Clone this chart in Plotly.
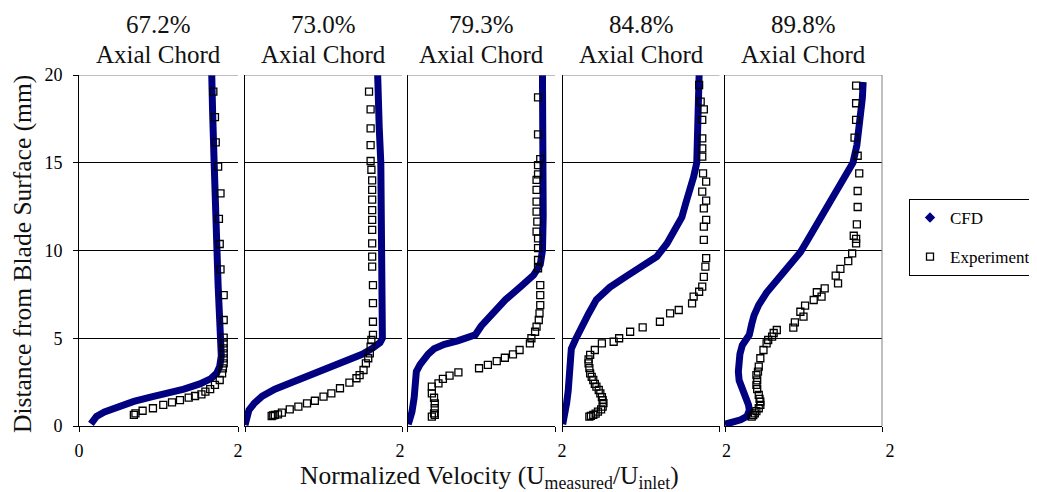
import plotly.graph_objects as go

FONT = "Liberation Serif"

panel_labels = ["67.2%", "73.0%", "79.3%", "84.8%", "89.8%"]
panel_sub = "Axial Chord"
y_ticks = [0, 5, 10, 15, 20]

# ---- CFD profiles (normalized velocity, distance mm) ----
cfd1_x = [0.15, 0.17, 0.22, 0.32, 0.48, 0.69, 0.9, 1.1, 1.32, 1.52, 1.66, 1.73, 1.77, 1.79, 1.79, 1.78, 1.77, 1.75, 1.73, 1.72, 1.70, 1.68, 1.67]
cfd1_y = [0.12, 0.3, 0.55, 0.8, 1.1, 1.4, 1.65, 1.85, 2.1, 2.4, 2.7, 3.0, 3.4, 4.0, 4.5, 5.0, 6.0, 8.0, 10.0, 12.0, 15.0, 18.0, 20.0]

cfd2_x = [0.0, 0.02, 0.05, 0.12, 0.22, 0.38, 0.6, 0.85, 1.05, 1.3, 1.5, 1.63, 1.72, 1.75, 1.75, 1.75, 1.75, 1.74, 1.73, 1.71, 1.69]
cfd2_y = [0.05, 0.5, 0.9, 1.3, 1.7, 2.1, 2.5, 2.9, 3.3, 3.7, 4.1, 4.45, 4.75, 5.0, 6.0, 8.0, 10.0, 12.0, 15.0, 17.0, 20.0]

cfd3_x = [0.01, 0.06, 0.09, 0.10, 0.12, 0.17, 0.22, 0.28, 0.36, 0.5, 0.68, 0.82, 0.92, 1.0, 1.15, 1.33, 1.55, 1.71, 1.80, 1.83, 1.84, 1.84, 1.84, 1.83]
cfd3_y = [0.1, 0.8, 1.6, 2.4, 3.1, 3.5, 3.8, 4.1, 4.4, 4.65, 4.85, 5.0, 5.2, 5.7, 6.4, 7.2, 8.0, 8.6, 9.2, 10.0, 12.0, 15.0, 18.0, 20.0]

cfd4_x = [0.0, 0.03, 0.05, 0.07, 0.09, 0.10, 0.11, 0.16, 0.21, 0.26, 0.33, 0.43, 0.6, 0.8, 1.03, 1.2, 1.33, 1.43, 1.52, 1.57, 1.63, 1.67, 1.71, 1.72, 1.73, 1.74]
cfd4_y = [0.1, 0.6, 1.3, 2.0, 2.8, 3.6, 4.4, 4.9, 5.4, 5.9, 6.4, 7.2, 7.9, 8.5, 9.1, 9.65, 10.4, 11.2, 11.9, 12.7, 13.45, 14.2, 15.0, 16.5, 18.0, 20.0]

cfd5_x = [0.0, 0.1, 0.2, 0.28, 0.31, 0.3, 0.26, 0.21, 0.18, 0.17, 0.17, 0.19, 0.22, 0.31, 0.34, 0.37, 0.43, 0.53, 0.68, 0.83, 0.96, 1.04, 1.17, 1.30, 1.43, 1.55, 1.63, 1.68, 1.72, 1.75, 1.76]
cfd5_y = [0.1, 0.2, 0.35, 0.55, 0.9, 1.2, 1.6, 2.1, 2.6, 3.1, 3.6, 4.1, 4.6, 5.2, 5.8, 6.3, 6.9, 7.6, 8.4, 9.2, 9.9, 10.5, 11.45, 12.4, 13.35, 14.3, 15.0, 16.0, 17.2, 18.7, 19.6]

# ---- Experiment profiles ----
exp1_x = [1.69, 1.71, 1.72, 1.75, 1.78, 1.76, 1.77, 1.78, 1.82, 1.82, 1.82, 1.82, 1.82, 1.82, 1.82, 1.82, 1.81, 1.80, 1.77, 1.71, 1.65, 1.59, 1.54, 1.46, 1.38, 1.27, 1.17, 1.06, 0.93, 0.80, 0.71, 0.69]
exp1_y = [19.05, 17.6, 16.16, 14.78, 13.26, 11.8, 10.37, 8.93, 7.46, 6.04, 5.03, 4.71, 4.42, 4.14, 3.85, 3.57, 3.28, 3.0, 2.62, 2.34, 2.1, 1.96, 1.8, 1.71, 1.62, 1.48, 1.35, 1.2, 1.01, 0.87, 0.72, 0.63]

exp2_x = [1.58, 1.60, 1.60, 1.60, 1.60, 1.61, 1.62, 1.62, 1.62, 1.62, 1.62, 1.62, 1.62, 1.62, 1.62, 1.63, 1.63, 1.63, 1.63, 1.61, 1.60, 1.59, 1.57, 1.54, 1.51, 1.46, 1.42, 1.33, 1.21, 1.10, 1.00, 0.89, 0.79, 0.68, 0.57, 0.47, 0.38, 0.34, 0.36, 0.42]
exp2_y = [19.05, 18.04, 16.96, 16.0, 15.1, 14.6, 14.0, 13.45, 12.9, 12.3, 11.74, 11.17, 10.41, 9.65, 9.08, 8.03, 7.0, 5.94, 5.19, 4.9, 4.52, 4.14, 3.86, 3.57, 3.19, 2.9, 2.72, 2.47, 2.15, 1.86, 1.67, 1.44, 1.29, 1.1, 0.95, 0.76, 0.63, 0.57, 0.6, 0.66]

exp3_x = [1.77, 1.77, 1.80, 1.77, 1.77, 1.75, 1.75, 1.75, 1.75, 1.76, 1.75, 1.77, 1.77, 1.77, 1.77, 1.80, 1.80, 1.80, 1.79, 1.78, 1.75, 1.73, 1.68, 1.66, 1.52, 1.43, 1.32, 1.21, 1.09, 0.97, 0.69, 0.57, 0.48, 0.42, 0.33, 0.33, 0.36, 0.37, 0.37, 0.36, 0.33, 0.37]
exp3_y = [18.73, 16.62, 15.21, 14.87, 14.34, 14.02, 13.45, 12.78, 12.21, 11.64, 11.07, 10.69, 10.13, 9.46, 8.99, 8.03, 7.46, 6.89, 6.42, 6.04, 5.66, 5.37, 5.0, 4.71, 4.33, 4.08, 3.89, 3.7, 3.48, 3.29, 3.06, 2.87, 2.68, 2.43, 2.24, 1.86, 1.61, 1.29, 1.01, 0.72, 0.53, 0.63]

exp4_x = [1.74, 1.76, 1.80, 1.78, 1.78, 1.78, 1.78, 1.79, 1.83, 1.78, 1.83, 1.80, 1.83, 1.80, 1.80, 1.83, 1.82, 1.80, 1.78, 1.74, 1.67, 1.65, 1.48, 1.37, 1.24, 1.02, 0.86, 0.72, 0.65, 0.50, 0.41, 0.35, 0.33, 0.35, 0.39, 0.43, 0.48, 0.51, 0.51, 0.45, 0.39, 0.34,
          0.33, 0.34, 0.37, 0.41, 0.46, 0.50, 0.52, 0.49, 0.42, 0.36]
exp4_y = [19.43, 18.48, 18.04, 17.44, 16.39, 15.82, 15.35, 14.4, 13.92, 13.35, 12.84, 12.4, 11.74, 11.36, 10.6, 9.56, 9.08, 8.5, 7.94, 7.65, 7.37, 6.99, 6.61, 6.42, 5.94, 5.62, 5.37, 5.0, 4.8, 4.71, 4.33, 4.05, 3.57, 3.0, 2.62, 2.24, 1.86, 1.48, 1.10, 0.82, 0.63, 0.53,
          3.8, 3.3, 2.8, 2.4, 2.05, 1.65, 1.3, 0.95, 0.7, 0.58]

exp5_x = [1.67, 1.67, 1.67, 1.65, 1.69, 1.71, 1.69, 1.69, 1.68, 1.64, 1.67, 1.67, 1.62, 1.57, 1.47, 1.41, 1.44, 1.27, 1.17, 1.23, 1.13, 1.02, 0.96, 1.0, 0.89, 0.87, 0.66, 0.60, 0.53, 0.49, 0.45, 0.43, 0.40, 0.40, 0.43, 0.45, 0.43, 0.38, 0.34,
          0.42, 0.41, 0.41, 0.44, 0.45, 0.40, 0.36, 0.55, 0.62]
exp5_y = [19.39, 18.39, 17.44, 16.43, 15.4, 14.4, 13.39, 12.48, 11.49, 10.84, 10.66, 10.41, 9.84, 9.4, 8.95, 8.57, 8.13, 7.84, 7.62, 7.37, 7.18, 6.86, 6.51, 6.23, 5.91, 5.6, 5.47, 5.09, 4.71, 4.33, 3.86, 3.38, 2.9, 2.34, 1.77, 1.39, 1.01, 0.72, 0.53,
          3.1, 2.6, 2.1, 1.55, 1.2, 0.85, 0.62, 4.9, 5.3]

cfd_x = [cfd1_x, cfd2_x, cfd3_x, cfd4_x, cfd5_x]
cfd_y = [cfd1_y, cfd2_y, cfd3_y, cfd4_y, cfd5_y]
exp_x = [exp1_x, exp2_x, exp3_x, exp4_x, exp5_x]
exp_y = [exp1_y, exp2_y, exp3_y, exp4_y, exp5_y]

# ---- layout geometry (page pixels; the page body has an 8px margin) ----
OFF = 8
W, H = 1037 - OFF, 492 - OFF


def px(x):
    return (x - OFF) / W


def py(y):
    return (H - (y - OFF)) / H


panel_px = [(79, 238), (245, 402), (407.5, 555), (562.7, 719.5), (725, 882)]
label_shift = [0, -2, 7, 7, 8]
y_bottom_px, y_top_px = 426, 75
NAVY = "#000080"
TXT = "#111111"

fig = go.Figure()
ydom = [py(y_bottom_px), py(y_top_px)]

# legend-only CFD diamond entry (first in legend)
fig.add_trace(go.Scatter(x=[None], y=[None], mode="markers", name="CFD", legendgroup="cfd",
                         marker=dict(symbol="diamond", size=8, color=NAVY)))

for i in range(5):
    n = "" if i == 0 else str(i + 1)
    xa, ya = "x" + n, "y" + n
    fig.add_trace(go.Scatter(x=cfd_x[i], y=cfd_y[i], xaxis=xa, yaxis=ya, mode="lines",
                             line=dict(color=NAVY, width=7), showlegend=False, hoverinfo="skip"))
    fig.add_trace(go.Scatter(x=exp_x[i], y=exp_y[i], xaxis=xa, yaxis=ya, mode="markers",
                             marker=dict(symbol="square-open", size=7, color="black", line=dict(width=1.3, color="black")),
                             showlegend=(i == 0), name="Experiment", legendgroup="exp"))
    x0, x1 = panel_px[i]
    fig.update_layout(**{
        "xaxis" + n: dict(domain=[px(x0), px(x1)], range=[0, 2], anchor=ya, automargin=False,
                          tickvals=[0, 2], ticktext=(["0", "2"] if i == 0 else ["", "2"]),
                          showline=True, linecolor="black", linewidth=1,
                          ticks="outside", ticklen=5, tickcolor="black",
                          ticklabelshift=label_shift[i], ticklabelstandoff=3,
                          showgrid=False, zeroline=False,
                          tickfont=dict(family=FONT, size=18, color="black")),
        "yaxis" + n: dict(domain=ydom, range=[0, 20], anchor=xa, automargin=False,
                          tickvals=y_ticks, showticklabels=(i == 0),
                          showline=True, linecolor="black", linewidth=1,
                          ticks=("outside" if i == 0 else ""), ticklen=5, tickcolor="black",
                          showgrid=True, gridcolor="black", gridwidth=1, zeroline=False,
                          ticklabelstandoff=7,
                          tickfont=dict(family=FONT, size=18, color="black")),
    })
    fig.add_shape(type="line", xref=xa + " domain", yref=ya, x0=0, x1=1, y0=20, y1=20,
                  line=dict(color="#808080", width=1), layer="above")
    xc = px((x0 + x1) / 2)
    fig.add_annotation(text=panel_labels[i], xref="paper", yref="paper",
                       x=xc, y=py(24), xanchor="center", yanchor="middle",
                       showarrow=False, font=dict(family=FONT, size=25, color=TXT))
    fig.add_annotation(text=panel_sub, xref="paper", yref="paper",
                       x=xc, y=py(55), xanchor="center", yanchor="middle",
                       showarrow=False, font=dict(family=FONT, size=25, color=TXT))

# right border of last panel
fig.add_shape(type="line", xref="x5 domain", yref="y5", x0=1, x1=1, y0=0, y1=20,
              line=dict(color="#808080", width=1), layer="above")

fig.add_annotation(text="Distance from Blade Surface (mm)", textangle=-90, xref="paper", yref="paper",
                   x=px(22), y=py(254), xanchor="center", yanchor="middle", showarrow=False,
                   font=dict(family=FONT, size=25.5, color=TXT))
fig.add_annotation(text="Normalized Velocity (U<sub>measured</sub>/U<sub>inlet</sub>)", xref="paper", yref="paper",
                   x=px(489), y=py(477), xanchor="center", yanchor="middle", showarrow=False,
                   font=dict(family=FONT, size=25.5, color=TXT))

fig.update_layout(
    width=W, height=H, margin=dict(l=0, r=0, t=0, b=0, autoexpand=False),
    paper_bgcolor="white", plot_bgcolor="white",
    legend=dict(x=px(1036), y=py(199), xanchor="right", yanchor="top",
                bordercolor="black", borderwidth=1, bgcolor="white",
                font=dict(family=FONT, size=17, color="black"),
                traceorder="grouped", tracegroupgap=14, itemwidth=30),
)

fig.write_html("out.html")
